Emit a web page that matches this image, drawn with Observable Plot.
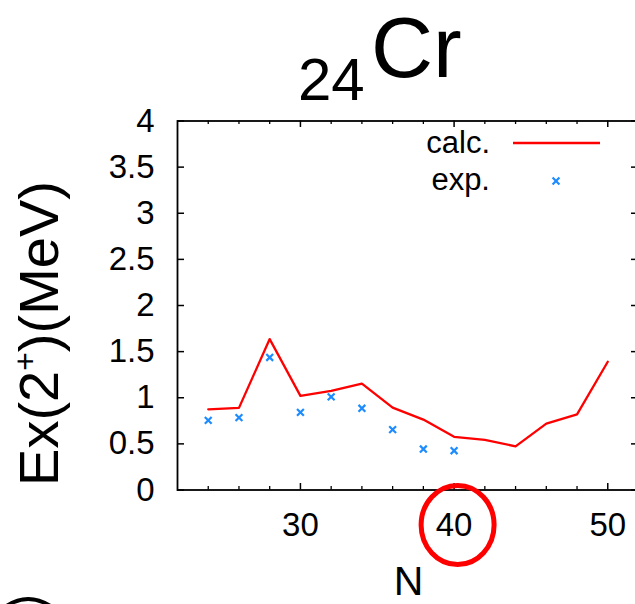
<!DOCTYPE html>
<html>
<head>
<meta charset="utf-8">
<script src="https://cdn.jsdelivr.net/npm/d3@7"></script>
<script src="https://cdn.jsdelivr.net/npm/@observablehq/plot@0.6"></script>
<style>
  body { margin: 0; background: #fff; }
  #chart svg { display: block; }
</style>
</head>
<body>
<div id="chart"></div>
<script>
// ---- data ----
const nCalc = [24, 26, 28, 30, 32, 34, 36, 38, 40, 42, 44, 46, 48, 50];
const calcValues = [0.875, 0.89, 1.636, 1.02, 1.075, 1.154, 0.893, 0.763, 0.576, 0.543, 0.473, 0.72, 0.82, 1.39];
const nExp = [24, 26, 28, 30, 32, 34, 36, 38, 40];
const expValues = [0.755, 0.785, 1.437, 0.842, 1.009, 0.886, 0.654, 0.444, 0.426];

const xMajorTicks = [30, 40, 50];
const xMajorLabels = ["30", "40", "50"];
const xMinorTicks = [24, 26, 28, 32, 34, 36, 38, 42, 44, 46, 48];
const yTicks = [0, 0.5, 1, 1.5, 2, 2.5, 3, 3.5, 4];
const yTickLabels = ["0", "0.5", "1", "1.5", "2", "2.5", "3", "3.5", "4"];

const titleZ = "24";
const titleElement = "Cr";
const yLabelParts = ["Ex(2", "+", ")(MeV)"];
const xLabel = "N";
const legendLabels = ["calc.", "exp."];
const highlightN = 40;

// ---- layout ----
const W = 635, H = 604;
const mL = 177, mR = -3, mT = 120.5, mB = 114.5;
const iW = W - mL - mR, iH = H - mT - mB;
const FONT = "'Liberation Sans', Arial, sans-serif";
const RED = "#ff0000", BLUE = "#1e8cff";

const calc = nCalc.map((n, i) => ({n, v: calcValues[i]}));
const exp = nExp.map((n, i) => ({n, v: expValues[i]}));

const plot = Plot.plot({
  width: W, height: H,
  marginLeft: mL, marginRight: mR, marginTop: mT, marginBottom: mB,
  x: {domain: [22, 52]},
  y: {domain: [0, 4]},
  style: {fontFamily: FONT, fontSize: "33px", background: "white", color: "black", overflow: "visible"},
  marks: [
    Plot.frame({stroke: "black", strokeWidth: 1.8}),
    Plot.ruleX(xMinorTicks, {x: d => d, insetTop: iH - 3.5, strokeWidth: 1.3}),
    Plot.ruleX(xMinorTicks, {x: d => d, insetBottom: iH - 3.5, strokeWidth: 1.3}),
    Plot.ruleX(xMajorTicks, {x: d => d, insetTop: iH - 6.5, strokeWidth: 1.5}),
    Plot.ruleX(xMajorTicks, {x: d => d, insetBottom: iH - 6.5, strokeWidth: 1.5}),
    Plot.ruleY(yTicks, {y: d => d, insetRight: iW - 7, strokeWidth: 1.5}),
    Plot.ruleY(yTicks, {y: d => d, insetLeft: iW - 7, strokeWidth: 1.5}),
    Plot.axisX({ticks: xMajorTicks, tickSize: 0, tickPadding: 23, label: null,
      tickFormat: d => xMajorLabels[xMajorTicks.indexOf(d)]}),
    Plot.axisY({ticks: yTicks, tickSize: 0, tickPadding: 23, label: null,
      tickFormat: d => yTickLabels[yTicks.indexOf(d)]}),
    Plot.line(calc, {x: "n", y: "v", stroke: RED, strokeWidth: 2.3}),
    Plot.dot(exp, {x: "n", y: "v", symbol: "times", r: 3.2, stroke: BLUE, strokeWidth: 2.2})
  ]
});

document.getElementById("chart").appendChild(plot);

// ---- decorations ----
const svg = d3.select(plot);
const xs = plot.scale("x");

// title
svg.append("text").attr("x", 298).attr("y", 100).attr("text-anchor", "start")
  .attr("font-family", FONT).attr("font-size", 60).attr("fill", "black").text(titleZ);
svg.append("text").attr("x", 371).attr("y", 77).attr("text-anchor", "start")
  .attr("font-family", FONT).attr("font-size", 86).attr("fill", "black").text(titleElement);

// y label
const yl = svg.append("text")
  .attr("transform", "translate(58,333.5) rotate(-90)")
  .attr("text-anchor", "middle")
  .attr("font-family", FONT).attr("font-size", 56).attr("fill", "black");
yl.append("tspan").text(yLabelParts[0]);
yl.append("tspan").attr("font-size", 32).attr("dy", -22).text(yLabelParts[1]);
yl.append("tspan").attr("dy", 22).text(yLabelParts[2]);

// x label
svg.append("text").attr("x", (mL + W - mR) / 2 + 1).attr("y", 595)
  .attr("text-anchor", "middle")
  .attr("font-family", FONT).attr("font-size", 41).attr("fill", "black").text(xLabel);

// legend
svg.append("text").attr("x", 490).attr("y", 153).attr("text-anchor", "end")
  .attr("font-family", FONT).attr("font-size", 31).attr("fill", "black").text(legendLabels[0]);
svg.append("line").attr("x1", 513).attr("x2", 600).attr("y1", 143).attr("y2", 143)
  .attr("stroke", RED).attr("stroke-width", 2.3);
svg.append("text").attr("x", 490).attr("y", 190).attr("text-anchor", "end")
  .attr("font-family", FONT).attr("font-size", 31).attr("fill", "black").text(legendLabels[1]);
svg.append("path").attr("transform", "translate(556,181)")
  .attr("d", d3.symbol(d3.symbolTimes, 3.2 * 3.2 * Math.PI)())
  .attr("fill", "none").attr("stroke", BLUE).attr("stroke-width", 2.2);

// red highlight ellipse around N = 40
svg.append("ellipse").attr("cx", xs.apply(highlightN) + 4).attr("cy", 525)
  .attr("rx", 36.5).attr("ry", 39.5)
  .attr("fill", "none").attr("stroke", RED).attr("stroke-width", 5);

// partial arc at the bottom-left edge (fragment of the neighbouring panel)
svg.append("path").attr("d", "M5,607 Q28,591 52,607")
  .attr("fill", "none").attr("stroke", "black").attr("stroke-width", 4);
</script>
</body>
</html>
